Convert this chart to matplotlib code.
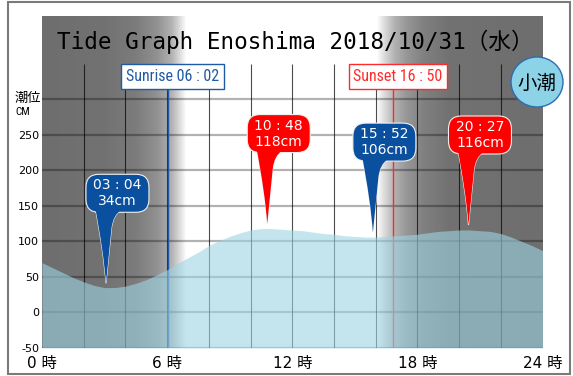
import numpy as np
import matplotlib
matplotlib.use("Agg")
import matplotlib.pyplot as plt
from matplotlib import patches, transforms
from matplotlib.path import Path
from matplotlib import font_manager as fm

# ---------------- data ----------------
hours = [0, 0.5, 1, 1.5, 2, 2.5, 3, 3.5, 4, 4.5, 5, 5.5, 6, 6.5, 7, 7.5, 8, 8.5,
         9, 9.5, 10, 10.5, 11, 11.5, 12, 12.5, 13, 13.5, 14, 14.5, 15, 15.5, 16,
         16.5, 17, 17.5, 18, 18.5, 19, 19.5, 20, 20.5, 21, 21.5, 22, 22.5, 23,
         23.5, 24]
tide_cm = [70, 63, 56, 49, 43, 38, 35, 35, 37, 41, 46, 53, 60, 69, 77, 85, 94,
           101, 107, 112, 116, 118, 118, 117, 116, 115, 113, 111, 110, 108, 107,
           106, 106, 107, 108, 109, 110, 112, 114, 115, 116, 116, 115, 114, 111,
           106, 100, 94, 87]

ext_time_labels = ["03 : 04", "10 : 48", "15 : 52", "20 : 27"]
ext_hours = [3 + 4 / 60, 10 + 48 / 60, 15 + 52 / 60, 20 + 27 / 60]
ext_cm = [34, 118, 106, 116]
ext_is_high = [False, True, False, True]

sunrise_h = 6 + 2 / 60
sunset_h = 16 + 50 / 60
sunrise_label = "Sunrise 06 : 02"
sunset_label = "Sunset 16 : 50"

title = "Tide Graph Enoshima 2018/10/31（水）"
tide_name = "小潮"
xtick_pos = [0, 6, 12, 18, 24]
xtick_labels = ["0 時", "6 時", "12 時", "18 時", "24 時"]
ytick_pos = [-50, 0, 50, 100, 150, 200, 250]
ytick_labels = ["-50", "0", "50", "100", "150", "200", "250"]

# ---------------- style ----------------
plt.rcParams["font.family"] = ["DejaVu Sans", "Noto Sans CJK JP"]

# pick a narrow font for the sunrise / sunset boxes if one is installed
narrow_props, narrow_size = dict(family="DejaVu Sans"), 9
names = {f.name for f in fm.fontManager.ttflist}
if "Liberation Sans Narrow" in names:
    narrow_props, narrow_size = dict(family="Liberation Sans Narrow"), 12
elif "Roboto Condensed" in names:
    narrow_props, narrow_size = dict(family="Roboto Condensed"), 11.5

W, H = 573, 376
fig = plt.figure(figsize=(W / 100, H / 100), dpi=100)
fig.patch.set_facecolor("white")
ax = fig.add_axes([42 / W, 28 / H, 500.5 / W, 332 / H])
YMIN, YMAX = -50, 417
for s in ax.spines.values():
    s.set_visible(False)

# night / day background gradient
gx = np.linspace(0, 24, 961)
gctrl_h = [0, 3, 4.5, 5.5, 6.2, 6.6, 6.9, 16.05, 16.4, 16.9, 17.5, 18.3, 19.5, 24]
gctrl_v = [110, 114, 124, 145, 178, 220, 255, 255, 220, 178, 150, 128, 114, 110]
gv = np.interp(gx, gctrl_h, gctrl_v) / 255.0
img = np.repeat(gv[None, :, None], 3, axis=2)
img = np.repeat(img, 2, axis=0)
ax.imshow(img, extent=[0, 24, YMIN, YMAX], aspect="auto", zorder=0,
          interpolation="bilinear")
ax.set_xlim(0, 24)
ax.set_ylim(YMIN, YMAX)

# grid
ax.hlines(np.arange(-50, 301, 50), 0, 24, color="black", alpha=0.3, lw=1.6, zorder=1)
ax.vlines(np.arange(2, 23, 2), YMIN, 350, color="black", alpha=0.7, lw=0.8, zorder=1)

# sunrise / sunset lines and labels
blue_txt = "#1f5aa6"
red_txt = "#ff2a2a"
ax.vlines(sunrise_h, YMIN, 316, color=blue_txt, lw=1.0, zorder=1.5)
ax.vlines(sunset_h, YMIN, 316, color=red_txt, lw=1.0, zorder=1.5)
off = transforms.offset_copy(ax.transData, fig=fig, x=5, y=0, units="dots")
for t, lab, col in [(sunrise_h, sunrise_label, blue_txt), (sunset_h, sunset_label, red_txt)]:
    ax.text(t, 332, lab, transform=off, ha="center", va="center", color=col, zorder=6,
            fontsize=narrow_size,
            bbox=dict(boxstyle="square,pad=0.3", fc="white", ec=col, lw=1.0),
            **narrow_props)

# water
ax.fill_between(hours, YMIN, tide_cm, color=(158 / 255, 213 / 255, 227 / 255),
                alpha=0.6, lw=0, zorder=2)

# balloons
def balloon(t, v, color, l1, l2):
    tr = fig.dpi_scale_trans + transforms.ScaledTranslation(t, v, ax.transData)
    tail_v = [(-0.11, 0.82), (-0.02, 0.35), (0.0, 0.05), (0.055, 0.60),
              (0.07, 0.73), (0.15, 0.78), (0.15, 0.84), (-0.11, 0.82)]
    tail_c = [Path.MOVETO, Path.CURVE3, Path.CURVE3, Path.LINETO,
              Path.CURVE3, Path.CURVE3, Path.LINETO, Path.CLOSEPOLY]
    tail = Path(tail_v, tail_c)
    ax.add_patch(patches.PathPatch(tail, transform=tr, fc=color, ec="#f0f0f0",
                                   lw=0.8, zorder=4, clip_on=False))
    body = patches.FancyBboxPatch((-0.20, 0.76), 0.63, 0.38,
                                  boxstyle="round,pad=0,rounding_size=0.13",
                                  transform=tr, fc=color, ec="#f0f0f0", lw=0.8,
                                  zorder=4.1, clip_on=False)
    ax.add_patch(body)
    ax.add_patch(patches.PathPatch(tail, transform=tr, fc=color, ec="none",
                                   zorder=4.2, clip_on=False))
    ax.text(0.115, 0.95, l1 + "\n" + l2, transform=tr, ha="center", va="center",
            color="white", fontsize=10, linespacing=1.18, zorder=5)

for t, v, lab, hi in zip(ext_hours, ext_cm, ext_time_labels, ext_is_high):
    balloon(t, v, "#ff0000" if hi else "#0b4f9f", lab, f"{v}cm")

# ticks
ax.set_xticks(xtick_pos, xtick_labels, fontsize=11)
ax.set_yticks(ytick_pos, ytick_labels, fontsize=8)
ax.tick_params(axis="x", length=0, pad=6)
ax.tick_params(axis="y", length=0, pad=2)

# title
fig.text(57 / W, 1 - 49 / H, title, fontsize=16.3,
         family=["DejaVu Sans Mono", "Noto Sans CJK JP"], va="baseline", ha="left",
         color="black", zorder=7)

# y-axis unit label
fig.text(15 / W, 1 - 102 / H, "潮位", fontsize=9.5, family=["Noto Sans CJK JP"],
         va="baseline", ha="left")
fig.text(15 / W, 1 - 115 / H, "CM", fontsize=8, va="baseline", ha="left",
         **narrow_props)

# tide-type circle
circ = patches.Ellipse((537 / W, 1 - 82 / H), 52 / W, 50 / H, transform=fig.transFigure,
                       fc="#8dd3e8", ec="#2c6cb2", lw=1.0, zorder=8)
fig.add_artist(circ)
fig.text(537 / W, 1 - 83 / H, tide_name, fontsize=14, family=["Noto Sans CJK JP"],
         ha="center", va="center", zorder=9)

# outer frame
frame = patches.Rectangle((8 / W, 2 / H), 562 / W, 372 / H, transform=fig.transFigure,
                          fill=False, ec="#7a7a7a", lw=1.5, zorder=10)
fig.add_artist(frame)

fig.savefig("out.png", dpi=100)
